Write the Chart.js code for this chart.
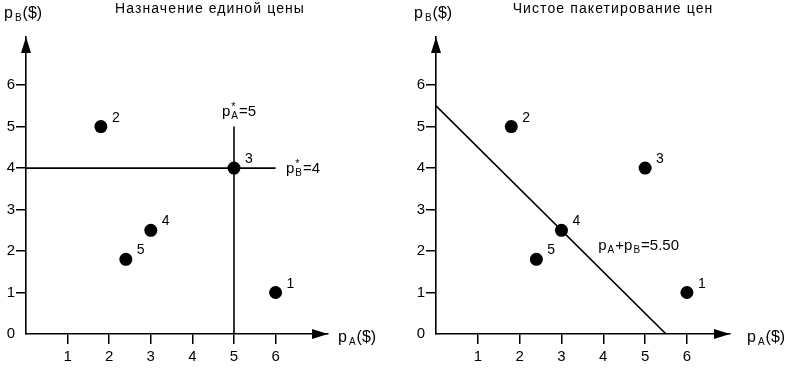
<!DOCTYPE html>
<html><head><meta charset="utf-8">
<script src="https://cdn.jsdelivr.net/npm/chart.js@4"></script>
<style>
body{margin:0;background:#fff;width:790px;height:371px;overflow:hidden;position:relative}
.box{position:absolute;top:0;width:395px;height:371px}
</style></head><body>
<div class="box" style="left:0"><canvas id="c1"></canvas></div>
<div class="box" style="left:395px"><canvas id="c2"></canvas></div>
<script>
// ---- data ----
const consumers = ['1', '2', '3', '4', '5'];
const priceA = [6, 1.8, 5, 3, 2.4];
const priceB = [1, 5, 4, 2.5, 1.8];
const xTicks = [1, 2, 3, 4, 5, 6];
const yTicks = [0, 1, 2, 3, 4, 5, 6];
const singlePriceA = 5;
const singlePriceB = 4;
const singleLineTopB = 5;
const singleLineRightA = 6;
const bundlePrice = 5.5;
const titles = ['Назначение единой цены', 'Чистое пакетирование цен'];

const FONT = "'Liberation Sans', Arial, sans-serif";

function richText(ctx, x, y, parts) {
  let cx = x;
  for (const p of parts) {
    ctx.font = p.size + 'px ' + FONT;
    ctx.fillText(p.t, cx, y + (p.dy || 0));
    if (!p.noAdvance) cx += ctx.measureText(p.t).width + (p.gap || 0);
  }
}

function makeChart(id, cfg) {
  const pts = priceA.map((x, i) => ({ x, y: priceB[i] }));
  const overlay = {
    id: 'overlay',
    afterDraw(chart) {
      const ctx = chart.ctx, a = chart.chartArea;
      const xs = chart.scales.x, ys = chart.scales.y;
      ctx.save();
      ctx.fillStyle = '#000';
      // arrows
      ctx.beginPath();
      ctx.moveTo(a.right, a.bottom);
      ctx.lineTo(a.right - 16, a.bottom - 5);
      ctx.lineTo(a.right - 16, a.bottom + 5);
      ctx.closePath(); ctx.fill();
      ctx.beginPath();
      ctx.moveTo(a.left, a.top);
      ctx.lineTo(a.left - 5, a.top + 16);
      ctx.lineTo(a.left + 5, a.top + 16);
      ctx.closePath(); ctx.fill();
      ctx.textBaseline = 'alphabetic';
      // title
      ctx.font = '14px ' + FONT;
      ctx.letterSpacing = '1.1px';
      ctx.textAlign = 'center';
      ctx.fillText(cfg.title, cfg.titleX, 13);
      ctx.letterSpacing = '0px';
      ctx.textAlign = 'left';
      // axis titles
      richText(ctx, a.left - 22, 18, [{ t: 'p', size: 16, gap: 2 }, { t: 'B', size: 10, dy: 3, gap: 1 }, { t: '($)', size: 16 }]);
      richText(ctx, cfg.xLabelX, a.bottom + 8, [{ t: 'p', size: 16, gap: 2 }, { t: 'A', size: 10, dy: 3, gap: 1 }, { t: '($)', size: 16 }]);
      // point labels
      ctx.font = '14px ' + FONT;
      pts.forEach((p, i) => {
        ctx.fillText(consumers[i], xs.getPixelForValue(p.x) + 11, ys.getPixelForValue(p.y) - 5);
      });
      // annotations
      for (const an of cfg.notes) {
        richText(ctx, xs.getPixelForValue(an.x), ys.getPixelForValue(an.y), an.parts);
      }
      ctx.restore();
    }
  };
  return new Chart(document.getElementById(id), {
    type: 'scatter',
    data: {
      datasets: [
        { data: pts, pointRadius: 6.5, pointHoverRadius: 6.5, backgroundColor: '#000', borderWidth: 0, showLine: false, order: 0 },
        ...cfg.lines.map(l => ({ data: l, showLine: true, pointRadius: 0, borderColor: '#000', borderWidth: 1.6, fill: false, order: 1 }))
      ]
    },
    options: {
      responsive: true, maintainAspectRatio: false, animation: false, events: [],
      layout: { padding: { left: cfg.padLeft, right: cfg.padRight, top: 37, bottom: 0 } },
      plugins: { legend: { display: false }, tooltip: { enabled: false }, title: { display: false } },
      scales: {
        x: {
          type: 'linear', min: 0, max: cfg.xMax,
          afterBuildTicks: s => { s.ticks = xTicks.map(v => ({ value: v })); },
          afterFit: s => { s.height = 37; },
          grid: { display: true, drawOnChartArea: false, drawTicks: true, tickLength: 10, color: '#000', lineWidth: 1.5 },
          border: { display: true, color: '#000', width: 1.6 },
          ticks: { color: '#000', font: { size: 15, family: FONT }, padding: 4, autoSkip: false, maxRotation: 0 }
        },
        y: {
          type: 'linear', min: 0, max: 7.16,
          afterBuildTicks: s => { s.ticks = yTicks.map(v => ({ value: v })); },
          afterFit: s => { s.width = 26; },
          grid: { display: true, drawOnChartArea: false, drawTicks: true, tickLength: 10, color: '#000', lineWidth: 1.5,
                  tickColor: c => (c.tick && c.tick.value === 0) ? 'rgba(0,0,0,0)' : '#000' },
          border: { display: true, color: '#000', width: 1.6 },
          ticks: { color: '#000', font: { size: 15, family: FONT }, padding: 1, autoSkip: false }
        }
      }
    },
    plugins: [overlay]
  });
}

makeChart('c1', {
  title: titles[0], titleX: 210, padLeft: 0, padRight: 67, xMax: 7.26, xLabelX: 338,
  lines: [
    [{ x: singlePriceA, y: 0 }, { x: singlePriceA, y: singleLineTopB }],
    [{ x: 0, y: singlePriceB }, { x: singleLineRightA, y: singlePriceB }]
  ],
  notes: [
    { x: 4.71, y: 5.25, parts: [{ t: 'p', size: 15, gap: 1 }, { t: '*', size: 11, dy: -6, noAdvance: true }, { t: 'A', size: 10, dy: 3, gap: 1 }, { t: '=5', size: 15 }] },
    { x: 6.25, y: 3.88, parts: [{ t: 'p', size: 15, gap: 1 }, { t: '*', size: 11, dy: -6, noAdvance: true }, { t: 'B', size: 10, dy: 3, gap: 1 }, { t: '=4', size: 15 }] }
  ]
});

makeChart('c2', {
  title: titles[1], titleX: 218, padLeft: 15, padRight: 60, xMax: 7.03, xLabelX: 352,
  lines: [
    [{ x: 0, y: bundlePrice }, { x: bundlePrice, y: 0 }]
  ],
  notes: [
    { x: 3.88, y: 2.02, parts: [{ t: 'p', size: 15, gap: 1 }, { t: 'A', size: 10, dy: 3, gap: 1 }, { t: '+p', size: 15, gap: 1 }, { t: 'B', size: 10, dy: 3, gap: 1 }, { t: '=5.50', size: 15 }] }
  ]
});
</script>
</body></html>
